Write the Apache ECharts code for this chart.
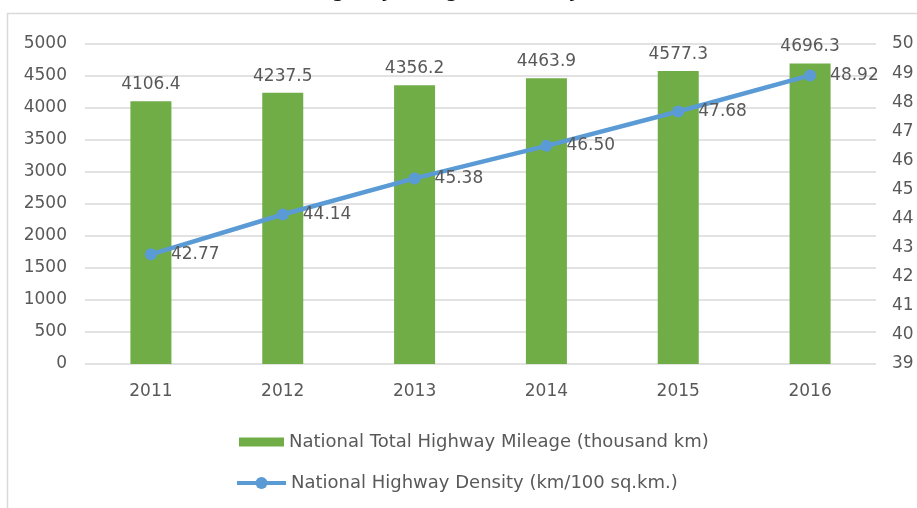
<!DOCTYPE html>
<html>
<head>
<meta charset="utf-8">
<title>National Highway Mileage and Density</title>
<script src="https://cdn.jsdelivr.net/npm/echarts@6/dist/echarts.min.js"></script>
<style>
  html, body { margin: 0; padding: 0; background: #fff; }
  #main { width: 917px; height: 508px; }
</style>
</head>
<body>
<!-- chart container -->
<div id="main"></div>
<script>
var years = ['2011', '2012', '2013', '2014', '2015', '2016']
var mileage = [4106.4, 4237.5, 4356.2, 4463.9, 4577.3, 4696.3]
var density = [42.77, 44.14, 45.38, 46.50, 47.68, 48.92]
var mileageName = 'National Total Highway Mileage (thousand km)'
var densityName = 'National Highway Density (km/100 sq.km.)'
var titleText = 'National Highway Mileage and Density (2011-2016)'

var textColor = '#595959'
var fontFamily = 'DejaVu Sans'
var fs = 17

var chart = echarts.init(document.getElementById('main'))

var legendText = { color: textColor, fontSize: 18, fontFamily: fontFamily }

var option = {
  animation: false,
  textStyle: { fontFamily: fontFamily },
  graphic: [
    {
      // outer frame, only top and left edges show
      type: 'rect',
      shape: { x: 7.5, y: 13.5, width: 1000, height: 1000 },
      style: { fill: 'none', stroke: '#d9d9d9', lineWidth: 1.5 },
      silent: true
    },
    {
      // title is cut off by the top edge
      type: 'text',
      x: 458,
      y: 0.5,
      style: {
        text: titleText,
        textAlign: 'center',
        textVerticalAlign: 'bottom',
        font: 'bold 18px "Noto Sans"',
        fill: '#000'
      },
      silent: true
    }
  ],
  grid: {
    left: 85,
    right: 41,
    top: 44,
    bottom: 144,
    containLabel: false
  },
  legend: [
    {
      left: 239,
      top: 433,
      padding: 0,
      itemWidth: 45,
      itemHeight: 9,
      itemGap: 5,
      textStyle: legendText,
      data: [{ name: mileageName, icon: 'rect' }]
    },
    {
      left: 235,
      top: 474,
      padding: 0,
      itemWidth: 49,
      itemHeight: 15,
      itemGap: 5,
      lineStyle: { width: 4 },
      textStyle: legendText,
      data: [{ name: densityName }]
    }
  ],
  xAxis: {
    type: 'category',
    data: years,
    axisLine: { show: false },
    axisTick: { show: false },
    axisLabel: { color: textColor, fontSize: fs, margin: 19 }
  },
  yAxis: [
    {
      type: 'value',
      min: 0,
      max: 5000,
      interval: 500,
      axisLine: { show: false },
      axisTick: { show: false },
      axisLabel: {
        color: textColor,
        fontSize: fs,
        margin: 18,
        formatter: function (v) { return String(v) }
      },
      splitLine: { lineStyle: { color: '#d9d9d9', width: 1.5 } }
    },
    {
      type: 'value',
      min: 39,
      max: 50,
      interval: 1,
      axisLine: { show: false },
      axisTick: { show: false },
      axisLabel: { color: textColor, fontSize: fs, margin: 16 },
      splitLine: { show: false }
    }
  ],
  series: [
    {
      name: mileageName,
      type: 'bar',
      data: mileage,
      barWidth: 41,
      itemStyle: { color: '#70AD47' },
      label: {
        show: true,
        position: 'top',
        distance: 8,
        color: textColor,
        fontSize: fs,
        formatter: function (p) { return p.value.toFixed(1) }
      }
    },
    {
      name: densityName,
      type: 'line',
      yAxisIndex: 1,
      data: density,
      symbol: 'circle',
      symbolSize: 12,
      lineStyle: { color: '#5B9BD5', width: 4.5 },
      itemStyle: { color: '#5B9BD5' },
      label: {
        show: true,
        position: 'right',
        distance: 14,
        color: textColor,
        fontSize: fs,
        formatter: function (p) { return p.value.toFixed(2) }
      }
    }
  ]
}

chart.setOption(option)
</script>
</body>
</html>
